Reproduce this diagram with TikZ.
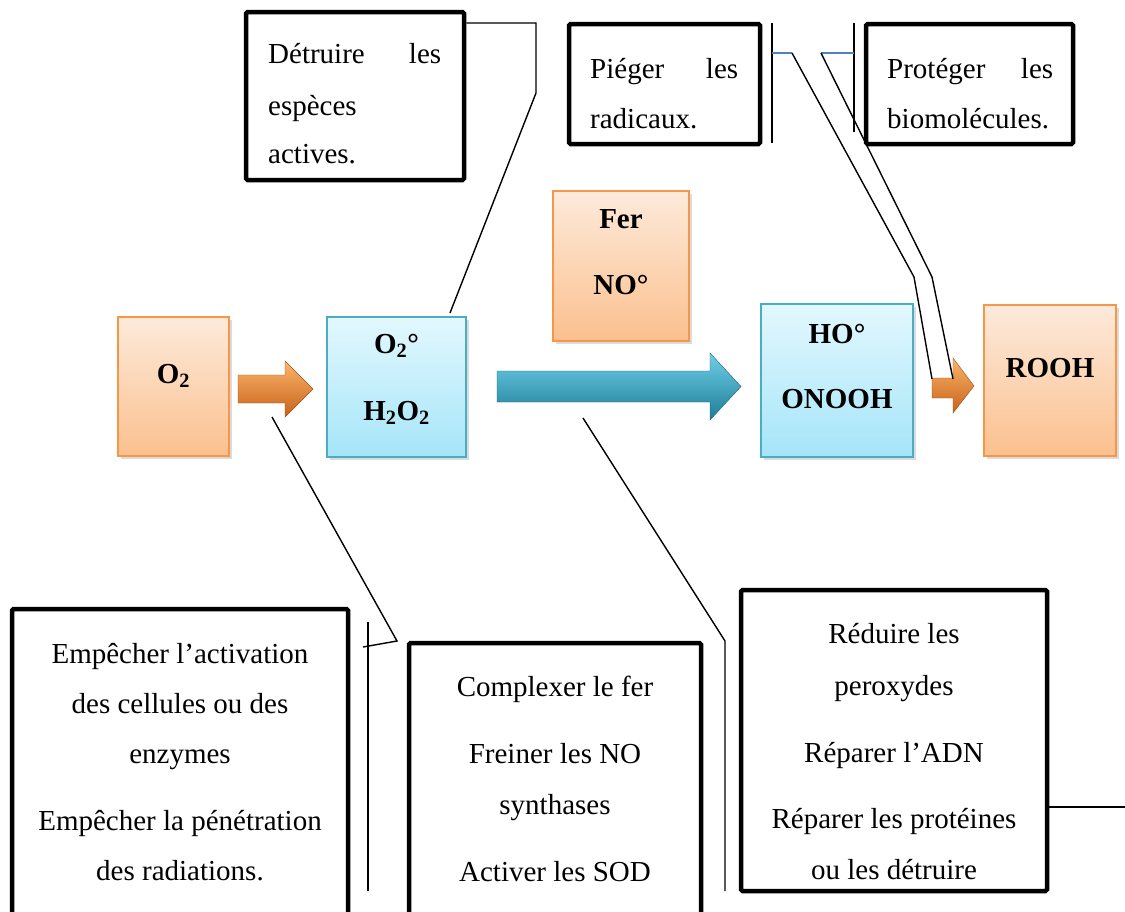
\documentclass[tikz,border=0pt]{standalone}
\usepackage{fontspec}
\setmainfont{Liberation Serif}
\usetikzlibrary{shadows}

\definecolor{orEdge}{HTML}{F79646}
\definecolor{orTop}{HTML}{FDEADB}
\definecolor{orBot}{HTML}{FBC08E}
\definecolor{blEdge}{HTML}{4BACC6}
\definecolor{blTop}{HTML}{E3F8FE}
\definecolor{blBot}{HTML}{A5E5F8}
\definecolor{tagBlue}{HTML}{4F81BD}
\definecolor{arOrTop}{HTML}{FBB56B}
\definecolor{arOrMid}{HTML}{F5902C}
\definecolor{arOrBot}{HTML}{C8621A}
\definecolor{arBlTop}{HTML}{6FD0EA}
\definecolor{arBlMid}{HTML}{35ADCC}
\definecolor{arBlBot}{HTML}{1E7C95}

\begin{document}
\begin{tikzpicture}[x=1pt,y=-1pt,
  note/.style={draw=black, line width=4.5pt, rounded corners=1.5pt, fill=white, inner sep=0pt},
  species/.style={line width=2pt, inner sep=0pt,
    drop shadow={shadow xshift=2.5pt, shadow yshift=-2.5pt, opacity=.28}},
  orbox/.style={species, draw=orEdge, top color=orTop, bottom color=orBot},
  blbox/.style={species, draw=blEdge, top color=blTop, bottom color=blBot},
  txt/.style={font=\fontsize{29}{35}\selectfont, inner sep=0pt, anchor=base},
  txtl/.style={txt, anchor=base west},
  chem/.style={font=\fontsize{29}{35}\selectfont\bfseries, inner sep=0pt, anchor=base},
  call/.style={line width=1.4pt, line join=miter},
  tag/.style={line width=1.4pt, draw=tagBlue},
  orarrow/.style={top color=arOrTop, middle color=arOrMid, bottom color=arOrBot, draw=arOrBot!80!black, line width=.4pt},
  blarrow/.style={top color=arBlTop, middle color=arBlMid, bottom color=arBlBot, draw=arBlBot!80!black, line width=.4pt},
]
\useasboundingbox[fill=white] (0,0) rectangle (1125,911);

% ---- species boxes ----
\node[orbox, minimum width=111pt, minimum height=139pt] (o2)   at (173.5,386.5) {};
\node[blbox, minimum width=139pt, minimum height=140pt] (h2o2) at (396.5,387) {};
\node[orbox, minimum width=136pt, minimum height=150pt] (fer)  at (621,266) {};
\node[blbox, minimum width=152pt, minimum height=153pt] (ho)   at (837,380.5) {};
\node[orbox, minimum width=132pt, minimum height=151pt] (rooh) at (1050,380.5) {};

\node[chem] (o2t)  at (173.5,383) {O\textsubscript{2}};
\node[chem] (h2a)  at (396.5,353) {O\textsubscript{2}°};
\node[chem] (h2b)  at (396.5,420) {H\textsubscript{2}O\textsubscript{2}};
\node[chem] (fera) at (621,228) {Fer};
\node[chem] (ferb) at (621,294) {NO°};
\node[chem] (hoa)  at (837,343) {HO°};
\node[chem] (hob)  at (837,408) {ONOOH};
\node[chem] (root) at (1050,377) {ROOH};

% ---- reaction arrows ----
\path[orarrow] (238,375) -- (285,375) -- (285,361) -- (313,389) -- (285,417) -- (285,403) -- (238,403) -- cycle;
\path[blarrow] (497,371) -- (710,371) -- (710,353) -- (741,386.5) -- (710,420) -- (710,402) -- (497,402) -- cycle;
\path[orarrow] (932,378) -- (953,378) -- (953,358) -- (974,386) -- (953,413) -- (953,398) -- (932,398) -- cycle;

% ---- upper notes ----
\node[note, minimum width=218pt, minimum height=168pt] (dt) at (355,96) {};
\node[txtl] (dt1) at (268,63)  {\makebox[173pt][s]{Détruire\hfill les}};
\node[txtl] (dt2) at (268,115) {espèces};
\node[txtl] (dt3) at (268,163) {actives.};

\node[note, minimum width=191pt, minimum height=120pt] (pg) at (664.5,84) {};
\node[txtl] (pg1) at (590,78)  {\makebox[148pt][s]{Piéger\hfill les}};
\node[txtl] (pg2) at (590,128) {radicaux.};

\node[note, minimum width=207pt, minimum height=120pt] (pt) at (969.5,84) {};
\node[txtl] (pt1) at (887,78)  {\makebox[166pt][s]{Protéger\hfill les}};
\node[txtl] (pt2) at (887,128) {biomolécules.};

% ---- lower notes ----
\node[note, minimum width=336pt, minimum height=311pt] (em) at (180,764.5) {};
\node[txt] (em1) at (180,663) {Empêcher l’activation};
\node[txt] (em2) at (180,713) {des cellules ou des};
\node[txt] (em3) at (180,763) {enzymes};
\node[txt] (em4) at (180,830) {Empêcher la pénétration};
\node[txt] (em5) at (180,880) {des radiations.};

\node[note, minimum width=292pt, minimum height=277pt] (cx) at (555,781.5) {};
\node[txt] (cx1) at (555,696) {Complexer le fer};
\node[txt] (cx2) at (555,763) {Freiner les NO};
\node[txt] (cx3) at (555,814) {synthases};
\node[txt] (cx4) at (555,881) {Activer les SOD};

\node[note, minimum width=306pt, minimum height=301pt] (rd) at (894,740.5) {};
\node[txt] (rd1) at (894,643) {Réduire les};
\node[txt] (rd2) at (894,695) {peroxydes};
\node[txt] (rd3) at (894,762) {Réparer l’ADN};
\node[txt] (rd4) at (894,828) {Réparer les protéines};
\node[txt] (rd5) at (894,879) {ou les détruire};

% ---- callout leaders ----
\coordinate (dtA) at (536,23);
\coordinate (dtB) at (536,93);
\coordinate (dtC) at (450,313);
\draw[call] (dt.east |- dtA) -- (dtA) -- (dtB) -- (dtC);

\coordinate (pgT) at (772,23);
\coordinate (pgM) at (772,53);
\coordinate (pgB) at (772,143);
\coordinate (pgK) at (792,53);
\coordinate (pgL) at (914,277);
\coordinate (pgE) at (932,379);
\draw[call] (pgT) -- (pgB);
\draw[tag] (pgM) -- (pgK);
\draw[call] (pgK) -- (pgL) -- (pgE);

\coordinate (ptT) at (854,23);
\coordinate (ptM) at (854,53);
\coordinate (ptB) at (854,132);
\coordinate (ptK) at (821,53);
\coordinate (ptL) at (932,277);
\coordinate (ptE) at (953,379);
\draw[call] (ptT) -- (ptB);
\draw[tag] (ptM) -- (ptK);
\draw[call] (ptK) -- (ptL) -- (ptE);

\coordinate (emT) at (368,622);
\coordinate (emB) at (368,891);
\coordinate (emK) at (363,647);
\coordinate (emL) at (397,641);
\coordinate (emE) at (272,417);
\draw[call] (emT) -- (emB);
\draw[call] (emK) -- (emL) -- (emE);

\coordinate (rdE) at (583,418);
\coordinate (rdK) at (725,641);
\coordinate (rdB) at (725,891);
\coordinate (rdR) at (1125,807);
\draw[call] (rdE) -- (rdK) -- (rdB);
\draw[call] (rd.east |- rdR) -- (rdR);
\end{tikzpicture}
\end{document}
